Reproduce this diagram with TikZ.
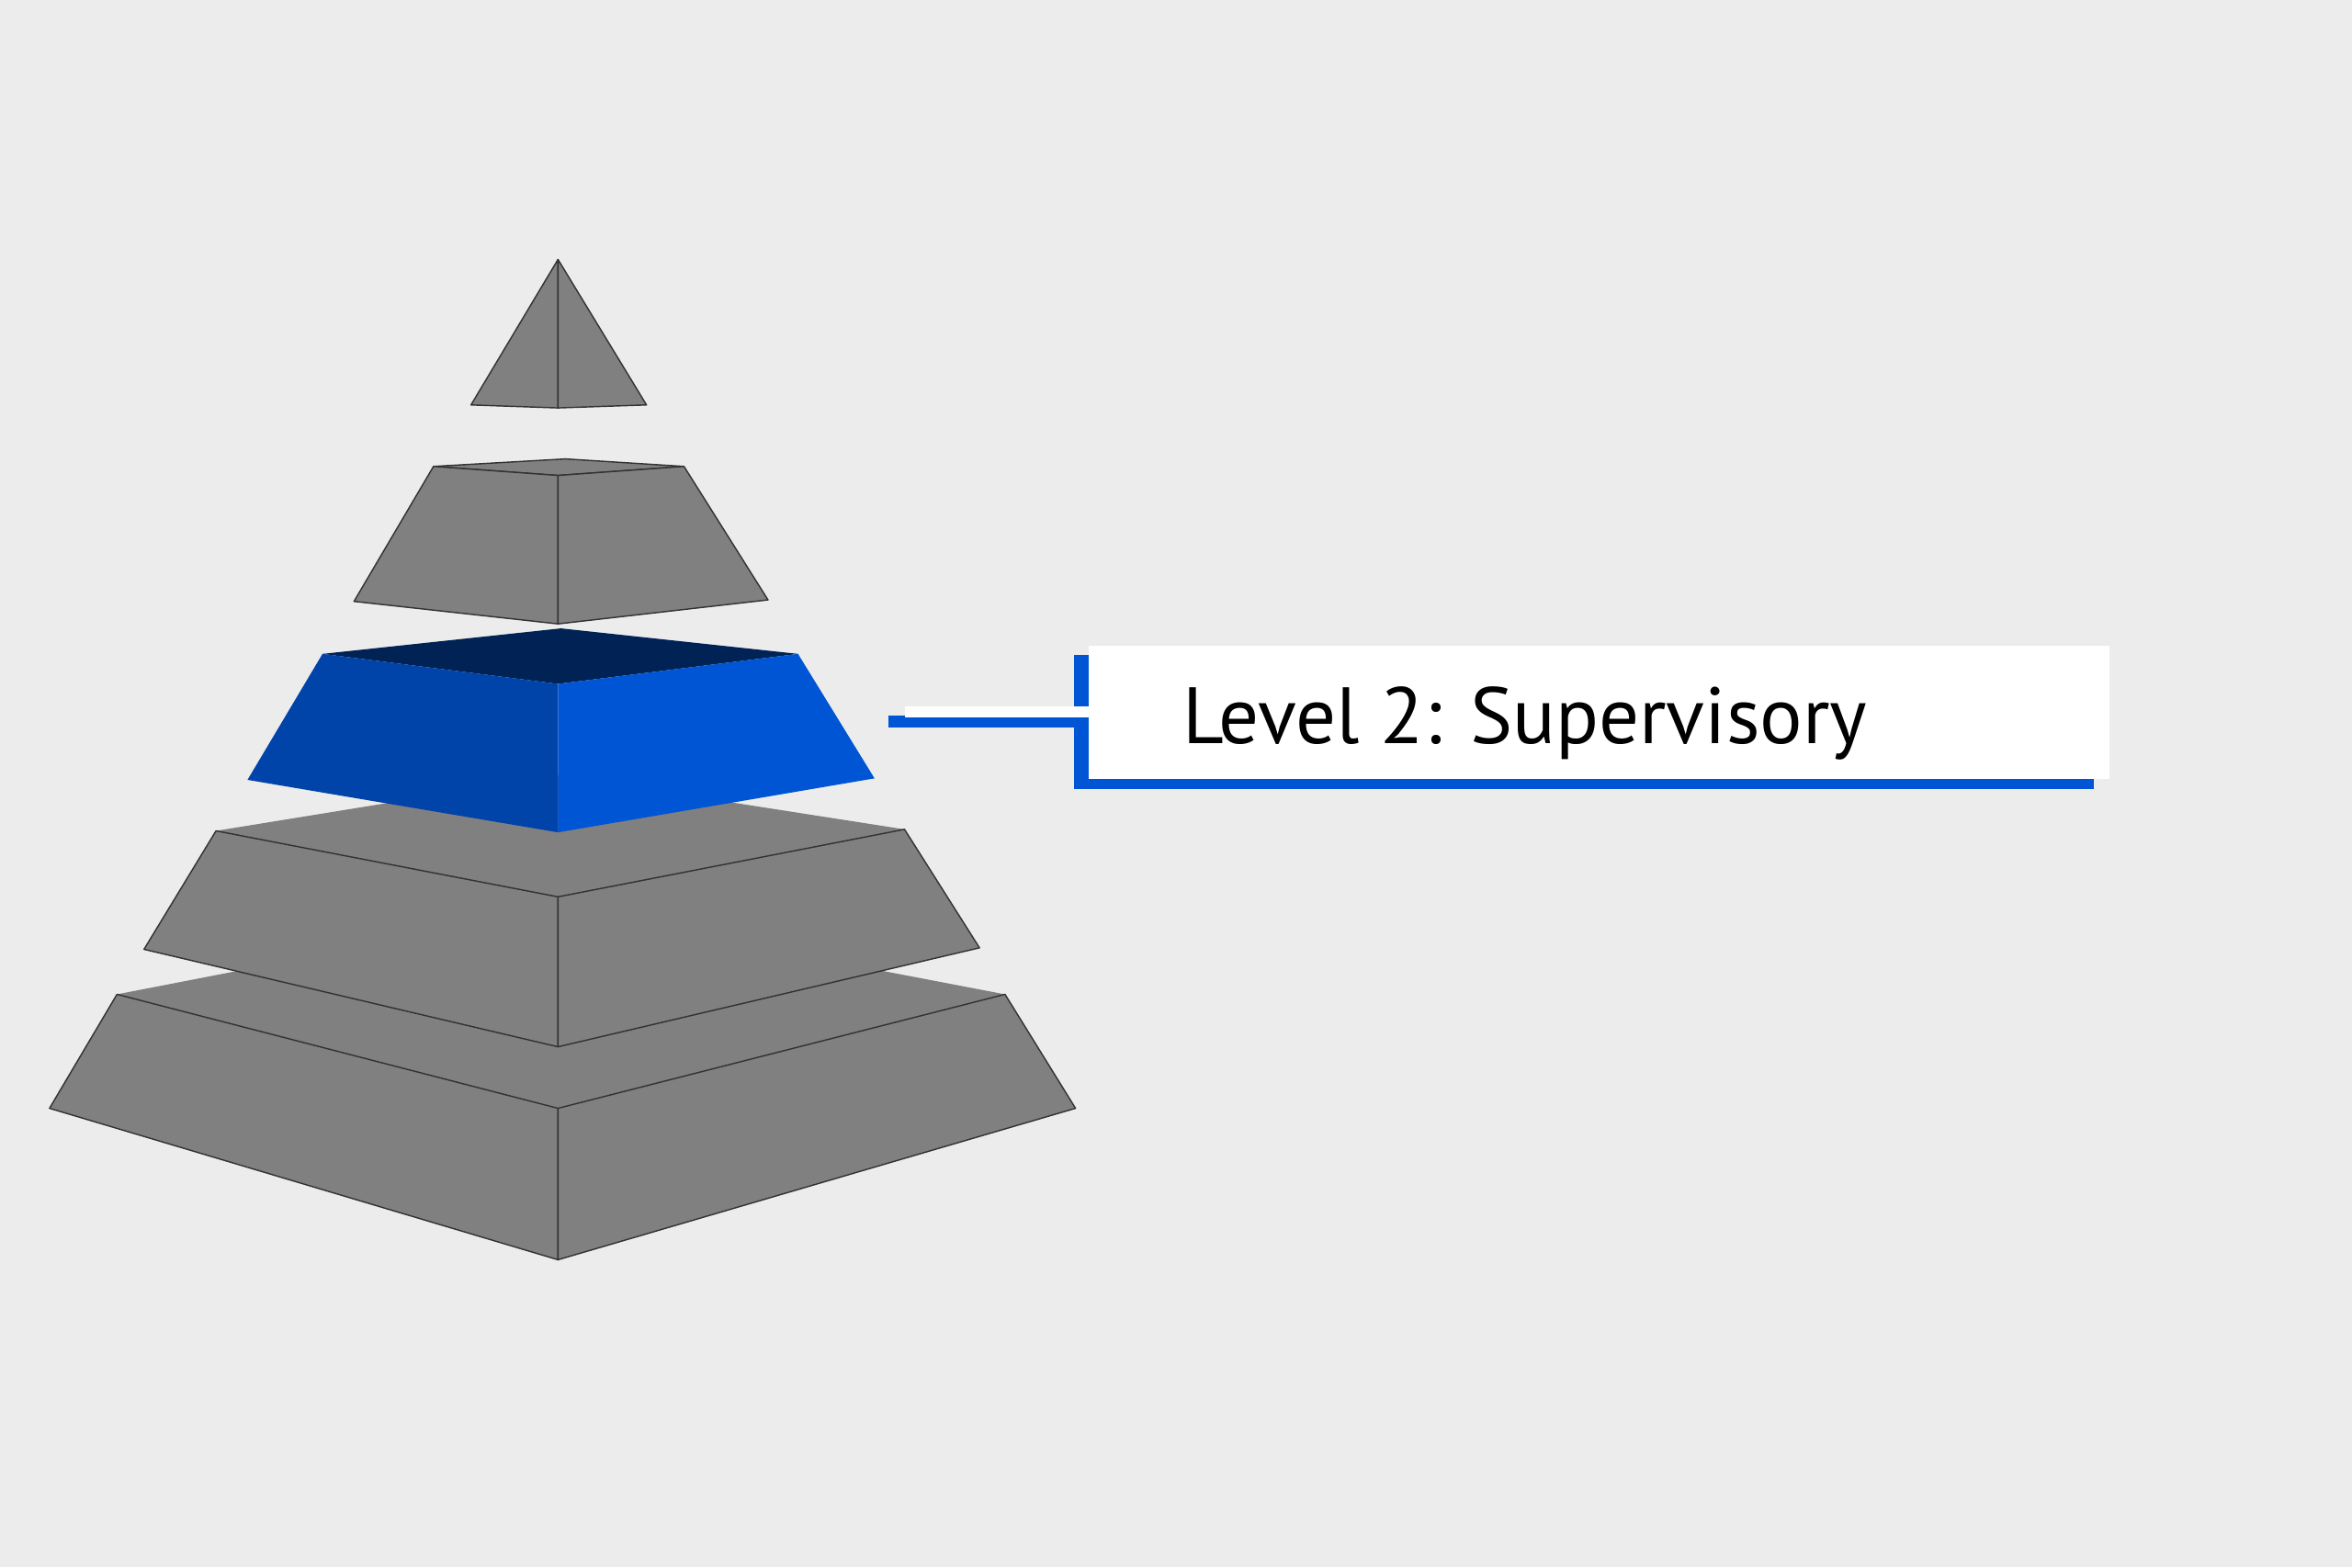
\documentclass[tikz,border=0pt]{standalone}
\usepackage{fontspec}
\setmainfont{PT Sans}
\usetikzlibrary{positioning}
\definecolor{bg}{HTML}{ECECEC}
\definecolor{tiergray}{HTML}{808080}
\definecolor{edgegray}{HTML}{333333}
\definecolor{blueleft}{HTML}{0044AA}
\definecolor{blueright}{HTML}{0055D4}
\definecolor{bluetop}{HTML}{002255}
\tikzset{face/.style={fill=tiergray, draw=edgegray, line width=0.5pt, line join=round}}
\tikzset{topface/.style={fill=tiergray}}
\tikzset{shadowbar/.style={draw=blueright, line width=0.158cm}}
\tikzset{whitebar/.style={draw=white, line width=0.148cm}}
\tikzset{every node/.append style={transform shape=false}}

\begin{document}
\begin{tikzpicture}[x=0.02cm, y=-0.02cm]
  \fill[bg] (0,0) rectangle (1568,1045);

  % tier 5 (base)
  \fill[topface] (372,606)--(78,663)--(372,739)--(670,663)--cycle;
  \draw[face] (78,663)--(372,739)--(372,840)--(33,739)--cycle;
  \draw[face] (372,739)--(670,663)--(717,739)--(372,840)--cycle;

  % tier 4
  \fill[topface] (372,517)--(144,554)--(372,598)--(603,553)--cycle;
  \draw[face] (144,554)--(372,598)--(372,698)--(96,633)--cycle;
  \draw[face] (372,598)--(603,553)--(653,632)--(372,698)--cycle;

  % tier 3, highlighted
  \fill[bluetop] (374,419)--(215,436)--(372,456)--(532,436)--cycle;
  \fill[blueleft] (215,436)--(372,456)--(372,555)--(165,520)--cycle;
  \fill[blueright] (372,456)--(532,436)--(583,519)--(372,555)--cycle;

  % tier 2
  \draw[face] (377,306)--(289,311)--(372,317)--(456,311)--cycle;
  \draw[face] (289,311)--(372,317)--(372,416)--(236,401)--cycle;
  \draw[face] (372,317)--(456,311)--(512,400)--(372,416)--cycle;

  % tip
  \draw[face] (372,173)--(372,272)--(314,270)--cycle;
  \draw[face] (372,173)--(431,270)--(372,272)--cycle;

  % label
  \node[fill=blueright, anchor=north west, inner sep=0, outer sep=0,
        minimum width=13.6cm, minimum height=1.79cm] (shadowbox) at (716,436.5) {};
  \node[fill=white, anchor=north west, inner sep=0, outer sep=0,
        minimum width=13.61cm, minimum height=1.78cm] (lblbox) at (726,430.4) {};
  \node[anchor=base west, inner sep=0, font=\fontsize{30.3}{36}\selectfont] (lbltext)
        at (788,495.7) {Level 2: Supervisory};

  \coordinate (tip) at (592,481);
  \coordinate (tipw) at (603,474.7);
  \draw[shadowbar] (tip) -- (tip -| shadowbox.west);
  \draw[whitebar] (tipw) -- (tipw -| lblbox.west);
\end{tikzpicture}
\end{document}
